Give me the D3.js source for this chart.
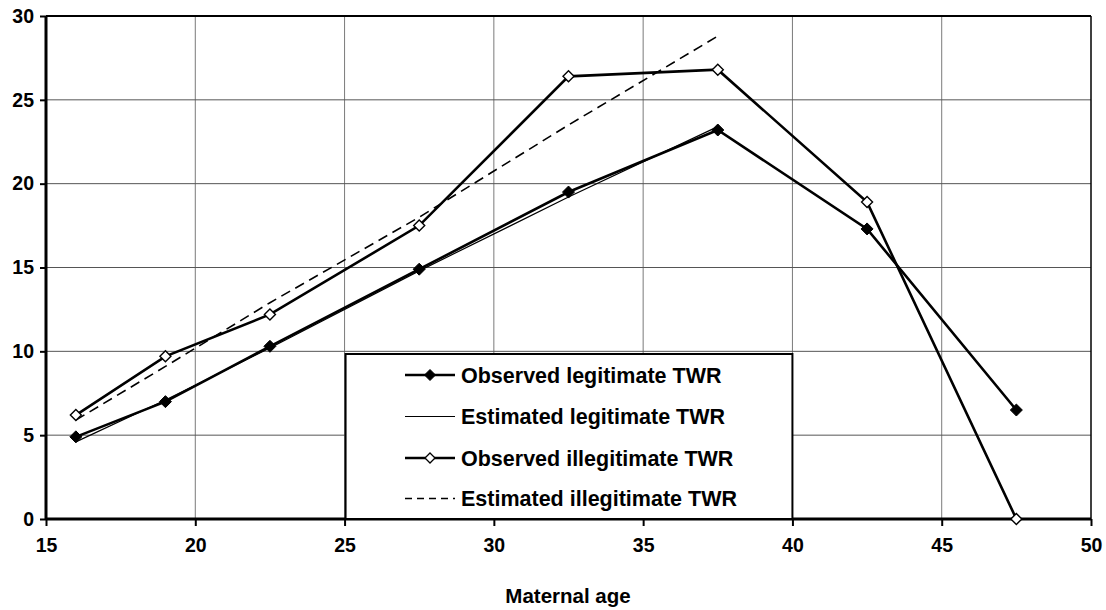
<!DOCTYPE html>
<html>
<head>
<meta charset="utf-8">
<script src="https://cdn.jsdelivr.net/npm/d3@7"></script>
<style>
  html, body { margin: 0; padding: 0; background: #fff; }
  svg { display: block; font-family: "Liberation Sans", Arial, sans-serif; }
</style>
</head>
<body>
<svg id="chart" width="1106" height="610"></svg>
<script>
// ---- data ----
const ages = [16, 19, 22.5, 27.5, 32.5, 37.5, 42.5, 47.5];
const observedLegit = [4.9, 7.0, 10.3, 14.9, 19.5, 23.2, 17.3, 6.5];
const estimatedLegit = [4.6, 7.1, 10.2, 14.8, 19.2, 23.4];
const observedIllegit = [6.2, 9.7, 12.2, 17.5, 26.4, 26.8, 18.9, 0];
const estimatedIllegit = [5.9, 9.1, 12.9, 18.0, 23.5, 28.8];
const xTicks = [15, 20, 25, 30, 35, 40, 45, 50];
const yTicks = [0, 5, 10, 15, 20, 25, 30];
const seriesNames = ["Observed legitimate TWR", "Estimated legitimate TWR",
                     "Observed illegitimate TWR", "Estimated illegitimate TWR"];
const xTitle = "Maternal age";

// ---- layout ----
const svg = d3.select("#chart");
const x = d3.scaleLinear().domain([15, 50]).range([46, 1091]);
const y = d3.scaleLinear().domain([0, 30]).range([519, 16]);

// gridlines
svg.append("g").selectAll("line.vg").data(xTicks.slice(1, -1)).join("line")
  .attr("x1", d => x(d)).attr("x2", d => x(d))
  .attr("y1", y(30)).attr("y2", y(0))
  .attr("stroke", "#7a7a7a").attr("stroke-width", 1);
svg.append("g").selectAll("line.hg").data(yTicks.slice(1, -1)).join("line")
  .attr("x1", x(15)).attr("x2", x(50))
  .attr("y1", d => y(d)).attr("y2", d => y(d))
  .attr("stroke", "#555").attr("stroke-width", 1);

// frame top/right
svg.append("line").attr("x1", x(15)).attr("x2", x(50)).attr("y1", y(30)).attr("y2", y(30))
  .attr("stroke", "#000").attr("stroke-width", 2);
svg.append("line").attr("x1", x(50)).attr("x2", x(50)).attr("y1", y(30)).attr("y2", y(0))
  .attr("stroke", "#000").attr("stroke-width", 1.5);

// axes
const xAxis = d3.axisBottom(x).tickValues(xTicks).tickSize(7).tickPadding(12).tickFormat(d3.format("d"));
const yAxis = d3.axisLeft(y).tickValues(yTicks).tickSize(6).tickPadding(6).tickFormat(d3.format("d"));

const gx = svg.append("g").attr("transform", `translate(0,${y(0)})`).call(xAxis);
const gy = svg.append("g").attr("transform", `translate(${x(15)},0)`).call(yAxis);
[gx, gy].forEach(g => {
  g.select(".domain").attr("stroke", "#000").attr("stroke-width", 3);
  g.selectAll(".tick line").attr("stroke", "#000").attr("stroke-width", 2);
  g.selectAll(".tick text").attr("fill", "#000")
    .style("font-size", "19.5px").style("font-weight", "bold")
    .style("font-family", "'Liberation Sans', Arial, sans-serif");
});
gx.select(".domain").attr("d", `M${x(15)},0H${x(50)}`);
gy.select(".domain").attr("d", `M0,${y(0)}V${y(30)}`);

// axis title
svg.append("text").attr("x", 568).attr("y", 603).attr("text-anchor", "middle")
  .style("font-size", "20.5px").style("font-weight", "bold").text(xTitle);

// lines
const line = d3.line().x((d, i) => x(ages[i])).y(d => y(d));
const lg = svg.append("g");
lg.append("path").datum(estimatedIllegit).attr("d", line)
  .attr("fill", "none").attr("stroke", "#000").attr("stroke-width", 1.6).attr("stroke-dasharray", "10,6");
lg.append("path").datum(estimatedLegit).attr("d", line)
  .attr("fill", "none").attr("stroke", "#000").attr("stroke-width", 1.2);
lg.append("path").datum(observedLegit).attr("d", line)
  .attr("fill", "none").attr("stroke", "#000").attr("stroke-width", 2.6);
lg.append("path").datum(observedIllegit).attr("d", line)
  .attr("fill", "none").attr("stroke", "#000").attr("stroke-width", 2.6);

// markers
function diamondPath(r) {
  return `M0,${-r}L${r},0L0,${r}L${-r},0Z`;
}
svg.append("g").selectAll("path").data(observedLegit).join("path")
  .attr("d", diamondPath(6))
  .attr("transform", (d, i) => `translate(${x(ages[i])},${y(d)})`)
  .attr("fill", "#000").attr("stroke", "#000").attr("stroke-width", 1);
svg.append("g").selectAll("path").data(observedIllegit).join("path")
  .attr("d", diamondPath(5.5))
  .attr("transform", (d, i) => `translate(${x(ages[i])},${y(d)})`)
  .attr("fill", "#fff").attr("stroke", "#000").attr("stroke-width", 1.4);

// legend
const leg = svg.append("g");
leg.append("rect").attr("x", x(25) + 1).attr("y", 354)
  .attr("width", x(40) - x(25) - 1).attr("height", y(0) - 354)
  .attr("fill", "#fff").attr("stroke", "#000").attr("stroke-width", 2);
const rowY = [375, 416.5, 458, 498.5];
const styles = [
  { w: 2.6, dash: null, marker: "filled" },
  { w: 1.2, dash: null, marker: null },
  { w: 2.6, dash: null, marker: "open" },
  { w: 1.5, dash: "7,5", marker: null }
];
seriesNames.forEach((name, i) => {
  const cy = rowY[i];
  const s = styles[i];
  const ln = leg.append("line").attr("x1", 405).attr("x2", 455).attr("y1", cy).attr("y2", cy)
    .attr("stroke", "#000").attr("stroke-width", s.w);
  if (s.dash) ln.attr("stroke-dasharray", s.dash);
  if (s.marker === "filled") {
    leg.append("path").attr("d", diamondPath(5.5)).attr("transform", `translate(430,${cy})`)
      .attr("fill", "#000").attr("stroke", "#000");
  } else if (s.marker === "open") {
    leg.append("path").attr("d", diamondPath(5)).attr("transform", `translate(430,${cy})`)
      .attr("fill", "#fff").attr("stroke", "#000").attr("stroke-width", 1.3);
  }
  leg.append("text").attr("x", 461).attr("y", cy + 7.5)
    .style("font-size", "21.5px").style("font-weight", "bold").text(name);
});
</script>
</body>
</html>
